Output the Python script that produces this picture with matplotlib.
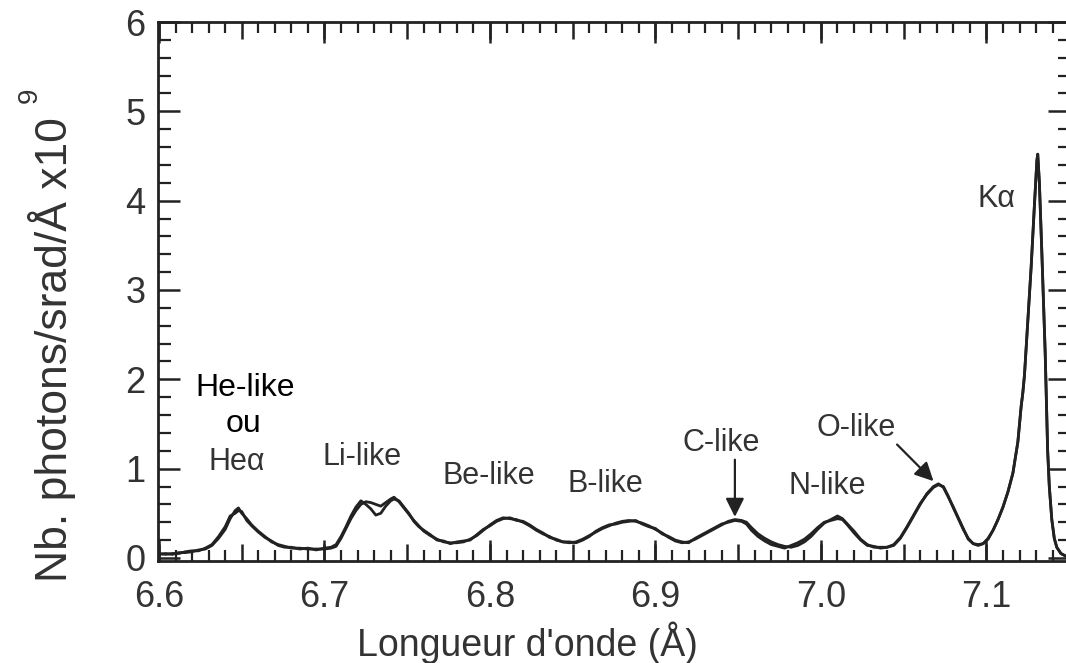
import matplotlib
matplotlib.use("Agg")
import matplotlib.pyplot as plt
from matplotlib.ticker import MultipleLocator, FuncFormatter, NullLocator

plt.rcParams['font.family'] = ['Liberation Sans', 'DejaVu Sans']

# wavelength grid (Angstrom) and the two overlapping recorded spectra (x1e9 photons/srad/A)
wavelength = [
    6.600, 6.604, 6.608, 6.612, 6.616, 6.620, 6.624, 6.628, 6.632, 6.636,
    6.640, 6.643, 6.646, 6.648, 6.650, 6.653, 6.656, 6.660, 6.664, 6.668,
    6.672, 6.676, 6.680, 6.685, 6.690, 6.695, 6.700, 6.704, 6.707, 6.710,
    6.713, 6.716, 6.719, 6.722, 6.725, 6.728, 6.731, 6.734, 6.737, 6.740,
    6.742, 6.745, 6.748, 6.751, 6.754, 6.757, 6.760, 6.764, 6.768, 6.772,
    6.776, 6.780, 6.784, 6.788, 6.792, 6.796, 6.800, 6.804, 6.808, 6.812,
    6.816, 6.820, 6.824, 6.828, 6.832, 6.836, 6.840, 6.844, 6.848, 6.852,
    6.856, 6.860, 6.864, 6.868, 6.872, 6.876, 6.880, 6.884, 6.888, 6.892,
    6.896, 6.900, 6.904, 6.908, 6.912, 6.916, 6.920, 6.924, 6.928, 6.932,
    6.936, 6.940, 6.944, 6.948, 6.952, 6.955, 6.958, 6.962, 6.966, 6.970,
    6.974, 6.978, 6.982, 6.986, 6.990, 6.994, 6.998, 7.002, 7.006, 7.010,
    7.013, 7.016, 7.020, 7.024, 7.028, 7.032, 7.036, 7.040, 7.044, 7.048,
    7.052, 7.056, 7.060, 7.064, 7.068, 7.071, 7.074, 7.077, 7.080, 7.083,
    7.086, 7.089, 7.092, 7.095, 7.098, 7.101, 7.104, 7.107, 7.110, 7.113,
    7.116, 7.119, 7.121, 7.122, 7.123, 7.125, 7.127, 7.129, 7.1305, 7.131,
    7.132, 7.1335, 7.1355, 7.137, 7.138, 7.1395, 7.141, 7.1425, 7.145, 7.148,
    7.152,
]
spectrum_a = [
    0.04, 0.05, 0.04, 0.06, 0.06, 0.07, 0.09, 0.10, 0.14, 0.22,
    0.32, 0.44, 0.53, 0.56, 0.50, 0.44, 0.37, 0.30, 0.24, 0.18,
    0.15, 0.13, 0.11, 0.11, 0.10, 0.10, 0.10, 0.11, 0.13, 0.22,
    0.33, 0.44, 0.53, 0.60, 0.63, 0.62, 0.60, 0.58, 0.62, 0.66,
    0.68, 0.63, 0.56, 0.49, 0.42, 0.36, 0.30, 0.25, 0.21, 0.18,
    0.17, 0.17, 0.18, 0.21, 0.25, 0.31, 0.37, 0.42, 0.45, 0.44,
    0.43, 0.40, 0.36, 0.31, 0.27, 0.24, 0.20, 0.18, 0.17, 0.18,
    0.21, 0.25, 0.29, 0.33, 0.36, 0.39, 0.41, 0.42, 0.41, 0.39,
    0.36, 0.32, 0.28, 0.23, 0.19, 0.17, 0.18, 0.21, 0.25, 0.29,
    0.33, 0.37, 0.41, 0.43, 0.42, 0.40, 0.34, 0.27, 0.22, 0.18,
    0.15, 0.13, 0.12, 0.14, 0.18, 0.24, 0.32, 0.39, 0.43, 0.47,
    0.44, 0.38, 0.30, 0.21, 0.15, 0.12, 0.12, 0.12, 0.14, 0.22,
    0.34, 0.47, 0.60, 0.72, 0.80, 0.83, 0.79, 0.68, 0.57, 0.45,
    0.33, 0.21, 0.16, 0.15, 0.16, 0.22, 0.31, 0.43, 0.57, 0.74,
    0.95, 1.30, 1.70, 1.85, 2.05, 2.66, 3.25, 3.95, 4.45, 4.52,
    4.20, 3.41, 2.30, 1.20, 0.80, 0.43, 0.22, 0.12, 0.05, 0.02,
    0.01,
]
spectrum_b = [
    0.05, 0.04, 0.05, 0.05, 0.07, 0.08, 0.08, 0.11, 0.15, 0.24,
    0.35, 0.47, 0.50, 0.53, 0.52, 0.42, 0.36, 0.29, 0.23, 0.19,
    0.14, 0.12, 0.12, 0.10, 0.11, 0.09, 0.11, 0.12, 0.15, 0.24,
    0.35, 0.47, 0.57, 0.64, 0.60, 0.55, 0.48, 0.50, 0.58, 0.64,
    0.66, 0.64, 0.57, 0.50, 0.41, 0.35, 0.31, 0.26, 0.20, 0.19,
    0.16, 0.18, 0.19, 0.20, 0.26, 0.32, 0.36, 0.41, 0.44, 0.45,
    0.42, 0.41, 0.37, 0.32, 0.28, 0.23, 0.21, 0.18, 0.18, 0.17,
    0.20, 0.24, 0.30, 0.34, 0.37, 0.38, 0.40, 0.41, 0.42, 0.38,
    0.35, 0.33, 0.27, 0.24, 0.20, 0.18, 0.17, 0.22, 0.26, 0.30,
    0.34, 0.38, 0.40, 0.42, 0.41, 0.38, 0.31, 0.24, 0.19, 0.15,
    0.13, 0.11, 0.14, 0.17, 0.21, 0.27, 0.34, 0.40, 0.42, 0.44,
    0.43, 0.37, 0.28, 0.20, 0.14, 0.13, 0.11, 0.12, 0.15, 0.23,
    0.35, 0.48, 0.61, 0.71, 0.79, 0.82, 0.80, 0.69, 0.56, 0.44,
    0.32, 0.22, 0.16, 0.14, 0.16, 0.21, 0.31, 0.43, 0.57, 0.74,
    0.95, 1.30, 1.70, 1.85, 2.05, 2.66, 3.25, 3.95, 4.45, 4.52,
    4.20, 3.41, 2.30, 1.20, 0.80, 0.43, 0.22, 0.12, 0.05, 0.02,
    0.01,
]

# line labels: (text, x, y)
labels = [
    ("Heα", 6.647, 1.07),
    ("Li-like", 6.7227, 1.13),
    ("Be-like", 6.7994, 0.92),
    ("B-like", 6.8695, 0.83),
    ("C-like", 6.940, 1.29),
    ("N-like", 7.004, 0.81),
    ("O-like", 7.021, 1.46),
    ("Kα", 7.1063, 4.02),
]

ink = "#222222"
txt = "#333333"

fig = plt.figure(figsize=(10.66, 6.63), dpi=100)
ax = fig.add_axes([158 / 1066, 1 - 561 / 663, (1070 - 158) / 1066, (561 - 22) / 663])

ax.plot(wavelength, spectrum_a, color=ink, lw=2.0)
ax.plot(wavelength, spectrum_b, color=ink, lw=2.0)

xlim = (6.5994, 7.1505)
ax.set_xlim(*xlim)
ax.set_ylim(-0.034, 6.0)

for s in ax.spines.values():
    s.set_linewidth(2.0)
    s.set_color(ink)

# x ticks: long every 0.1, medium every 0.05, short every 0.01
ax2 = ax.twiny()
ax2.set_xlim(*xlim)
ax2.xaxis.set_major_locator(MultipleLocator(0.1))
ax2.xaxis.set_minor_locator(NullLocator())
ax2.tick_params(axis='x', which='major', direction='in', length=15, width=1.8,
                color=ink, top=True, bottom=True, labeltop=False, labelbottom=False)
for s in ax2.spines.values():
    s.set_visible(False)

ax.xaxis.set_major_locator(MultipleLocator(0.05))
ax.xaxis.set_minor_locator(MultipleLocator(0.01))
ax.xaxis.set_major_formatter(FuncFormatter(
    lambda v, p: "%.1f" % v if round(v * 100) % 10 == 0 else ""))
ax.yaxis.set_major_locator(MultipleLocator(1))
ax.yaxis.set_minor_locator(MultipleLocator(0.2))
ax.yaxis.set_major_formatter(FuncFormatter(lambda v, p: "%d" % round(v)))

ax.tick_params(axis='x', which='major', direction='in', length=12, width=1.8,
               color=ink, top=True, bottom=True, labelsize=26, labelcolor=txt, pad=14)
ax.tick_params(axis='x', which='minor', direction='in', length=8, width=1.6,
               color=ink, top=True, bottom=True)
ax.tick_params(axis='y', which='major', direction='in', length=16, width=1.8,
               color=ink, left=True, right=True, labelsize=26, labelcolor=txt, pad=9)
ax.tick_params(axis='y', which='minor', direction='in', length=9, width=1.6,
               color=ink, left=True, right=True)

# axis titles
fig.text(527 / 1066, 1 - 643 / 663, "Longueur d'onde (Å)", ha='center', va='center',
         fontsize=27, color=txt)
fig.text(52 / 1066, 1 - 350 / 663, "Nb. photons/srad/Å x10", ha='center', va='center',
         rotation=90, fontsize=32, color=txt)
fig.text(30 / 1066, 1 - 95 / 663, "9", ha='center', va='center',
         rotation=90, fontsize=20, color=txt)

# annotations
ax.text(6.652, 1.90, "He-like", ha='center', va='center', fontsize=23, color='black')
ax.text(6.651, 1.50, "ou", ha='center', va='center', fontsize=23, color='black')
for name, lx, ly in labels:
    ax.text(lx, ly, name, ha='center', va='center', fontsize=22, color=txt)

# arrows to the C-like and O-like peaks
wl = wavelength
c_idx = max((i for i in range(len(wl)) if 6.94 <= wl[i] <= 6.955), key=lambda i: spectrum_a[i])
o_idx = max((i for i in range(len(wl)) if 7.06 <= wl[i] <= 7.08), key=lambda i: spectrum_a[i])
ax.annotate("", xy=(wl[c_idx], spectrum_a[c_idx] + 0.03), xytext=(wl[c_idx], 1.10),
            arrowprops=dict(arrowstyle='-|>', color=ink, lw=1.6, mutation_scale=28,
                            shrinkA=0, shrinkB=0))
ax.annotate("", xy=(wl[o_idx] - 0.003, spectrum_a[o_idx] + 0.03), xytext=(7.046, 1.27),
            arrowprops=dict(arrowstyle='-|>', color=ink, lw=1.6, mutation_scale=28,
                            shrinkA=0, shrinkB=0))

fig.savefig("out.png", dpi=100, facecolor='white')
